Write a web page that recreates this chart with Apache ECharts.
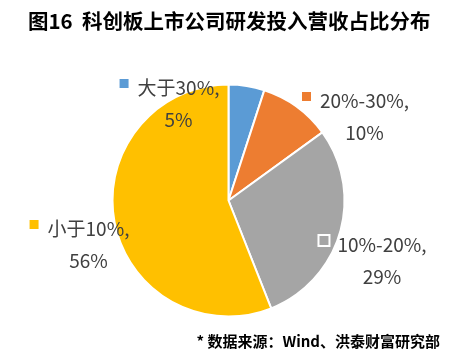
<!DOCTYPE html>
<html>
<head>
<meta charset="utf-8">
<script src="https://cdn.jsdelivr.net/npm/echarts@6/dist/echarts.min.js"></script>
<style>
html,body{margin:0;padding:0;background:#fff;}
#c{width:461px;height:354px;}
</style>
</head>
<body>
<div id="c"></div>
<script>
const categories = ['大于30%', '20%-30%', '10%-20%', '小于10%'];
const values = [5, 10, 29, 56];
const percentLabels = ['5%', '10%', '29%', '56%'];
const colors = ['#5B9BD5', '#ED7D31', '#A5A5A5', '#FFC000'];
const labelAnchors = [[169.5, 111], [355.5, 124], [373, 268], [79.5, 252]];

const chart = echarts.init(document.getElementById('c'), null, {renderer: 'canvas'});
const FONT = '"Noto Sans CJK SC", "Microsoft YaHei", sans-serif';

const rich = {
  t1: {fontSize: 19, fontFamily: FONT, color: '#404040', lineHeight: 18, align: 'center'},
  t2: {fontSize: 19, fontFamily: FONT, color: '#404040', lineHeight: 46, align: 'center'},
  g: {width: 9, height: 7, align: 'center'},
  s: {width: 9, height: 9, align: 'center'}
};
colors.forEach((c, i) => {
  rich['k' + i] = {width: 9, height: 9, backgroundColor: c, borderColor: '#fff', borderWidth: 2, verticalAlign: 'top', align: 'center'};
});

chart.setOption({
  animation: false,
  title: [{
    text: '图16  科创板上市公司研发投入营收占比分布',
    left: 23, top: 6,
    textStyle: {fontSize: 20.5, fontWeight: 'bold', color: '#000', fontFamily: FONT}
  }, {
    text: '* 数据来源：Wind、洪泰财富研究部',
    right: 16, top: 329,
    textStyle: {fontSize: 15, fontWeight: 'bold', color: '#000', fontFamily: FONT}
  }],
  series: [{
    type: 'pie',
    center: [228.5, 200.5],
    radius: [0, 116],
    startAngle: 90,
    clockwise: true,
    color: colors,
    itemStyle: {borderColor: '#fff', borderWidth: 2},
    labelLine: {show: false},
    label: {
      show: true,
      position: 'outside',
      overflow: 'none',
      width: 200,
      formatter: function (p) {
        const i = p.dataIndex;
        return '{k' + i + '|}{g|}{t1|' + categories[i] + ',}\n{s|}{g|}{t2|' + percentLabels[i] + '}';
      },
      rich: rich
    },
    labelLayout: function (p) {
      const a = labelAnchors[p.dataIndex];
      return {x: a[0], y: a[1], align: 'center', verticalAlign: 'middle'};
    },
    data: categories.map((c, i) => ({name: c, value: values[i]}))
  }]
});
</script>
</body>
</html>
